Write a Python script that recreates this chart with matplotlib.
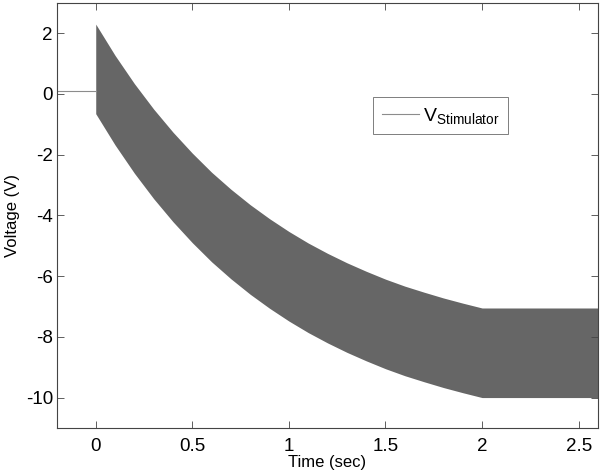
import matplotlib
matplotlib.use("Agg")
import matplotlib.pyplot as plt

plt.rcParams["font.family"] = ["Liberation Sans", "DejaVu Sans"]
plt.rcParams["axes.unicode_minus"] = False

# values
t_pre = [-0.2, 0.0]
v_pre = [0.1, 0.1]

t_env = [0.0, 0.1, 0.2, 0.3, 0.4, 0.5, 0.6, 0.7, 0.8, 0.9, 1.0,
         1.1, 1.2, 1.3, 1.4, 1.5, 1.6, 1.7, 1.8, 1.9, 2.0, 2.6]
v_upper = [2.3, 1.27, 0.34, -0.5, -1.26, -1.95, -2.58, -3.14, -3.65, -4.11, -4.53,
           -4.91, -5.25, -5.56, -5.84, -6.1, -6.33, -6.53, -6.72, -6.89, -7.05, -7.05]
v_lower = [-0.65, -1.68, -2.61, -3.45, -4.21, -4.9, -5.53, -6.09, -6.6, -7.06, -7.48,
           -7.86, -8.2, -8.51, -8.79, -9.05, -9.28, -9.48, -9.67, -9.84, -10.0, -10.0]

x_ticks = [0, 0.5, 1, 1.5, 2, 2.5]
x_labels = ["0", "0.5", "1", "1.5", "2", "2.5"]
y_ticks = [2, 0, -2, -4, -6, -8, -10]

line_color = "#8c8c8c"
fill_color = "#666666"

fig = plt.figure(figsize=(6.01, 4.76), dpi=100)
ax = fig.add_axes([0.095, 0.101, 0.9, 0.893])

ax.plot(t_pre, v_pre, color=line_color, lw=0.8, label=r"$\mathregular{V_{Stimulator}}$")
ax.fill_between(t_env, v_lower, v_upper, color=fill_color, lw=0)

ax.set_xlim(-0.2, 2.6)
ax.set_ylim(-11, 3)
ax.set_xticks(x_ticks)
ax.set_xticklabels(x_labels)
ax.set_yticks(y_ticks)
ax.tick_params(direction="in", top=True, right=True, length=5, width=0.6,
               color="#444444", labelsize=13.5)
ax.tick_params(axis="x", pad=7)
ax.tick_params(axis="y", pad=3)
for s in ax.spines.values():
    s.set_color("#444444")
    s.set_linewidth(0.8)

ax.set_xlabel("Time (sec)", fontsize=12, labelpad=0)
ax.set_ylabel("Voltage (V)", fontsize=12, labelpad=4)

leg = ax.legend(loc="upper left", bbox_to_anchor=(0.584, 0.779), fancybox=False,
                edgecolor="#444444", fontsize=14, handlelength=1.9,
                borderpad=0.45, handletextpad=0.2, borderaxespad=0)
leg.get_frame().set_linewidth(0.6)

fig.savefig("out.png", dpi=100)
